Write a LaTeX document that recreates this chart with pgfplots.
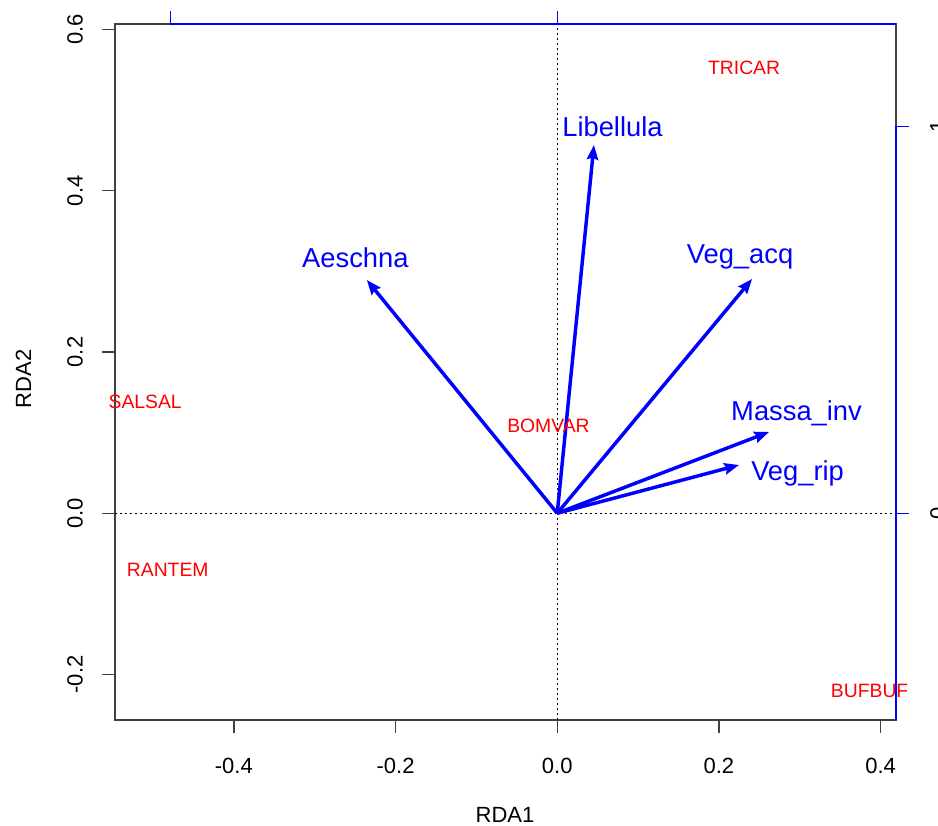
\documentclass[border=0pt]{standalone}
\usepackage{fontspec}
\setmainfont{Liberation Sans}
\usepackage{pgfplots}
\pgfplotsset{compat=1.18}
\usetikzlibrary{arrows.meta}

\newcommand\tickfont{\fontsize{16.5}{19}\selectfont}
\newcommand\spfont{\fontsize{20.5}{24}\selectfont}
\newcommand\sitefont{\fontsize{14.5}{17}\selectfont}

\begin{document}
\begin{tikzpicture}
\begin{axis}[
  width=585.75pt, height=522pt, scale only axis, clip=false,
  xmin=-0.547, xmax=0.419, ymin=-0.2565, ymax=0.6069,
  axis line style={black!75, line width=1pt},
  xtick={-0.4,-0.2,0,0.2,0.4}, xticklabels={-0.4,-0.2,0.0,0.2,0.4},
  ytick={-0.2,0,0.2,0.4,0.6}, yticklabels={-0.2,0.0,0.2,0.4,0.6},
  xtick pos=bottom, ytick pos=left, tick align=outside,
  major tick length=9.75pt,
  major tick style={black!75, line width=1pt},
  ticklabel style={font=\tickfont, inner sep=0pt},
  xticklabel style={anchor=north}, xticklabel shift=18.4pt,
  yticklabel style={rotate=90, anchor=south}, yticklabel shift=14.25pt,
  xlabel={RDA1}, ylabel={RDA2},
  label style={font=\tickfont, inner sep=0pt},
  xlabel style={at={(rel axis cs:0.4994,-0.1365)}, anchor=center},
  ylabel style={at={(rel axis cs:-0.1172,0.4899)}, anchor=center},
]
% zero lines
\addplot[black, line width=0.75pt, dash pattern=on 1.5pt off 2.25pt] coordinates {(-0.547,0) (0.419,0)};
\addplot[black, line width=0.75pt, dash pattern=on 1.5pt off 2.25pt] coordinates {(0,-0.2565) (0,0.6069)};

% species arrows
\addplot[blue, line width=2.6pt, -{Stealth[length=11pt,width=8.5pt,inset=1.5pt]}] coordinates {(0,0) (-0.2355,0.2893)};
\addplot[blue, line width=2.6pt, -{Stealth[length=11pt,width=8.5pt,inset=1.5pt]}] coordinates {(0,0) (0.0454,0.4568)};
\addplot[blue, line width=2.6pt, -{Stealth[length=11pt,width=8.5pt,inset=1.5pt]}] coordinates {(0,0) (0.2410,0.2906)};
\addplot[blue, line width=2.6pt, -{Stealth[length=11pt,width=8.5pt,inset=1.5pt]}] coordinates {(0,0) (0.2620,0.1008)};
\addplot[blue, line width=2.6pt, -{Stealth[length=11pt,width=8.5pt,inset=1.5pt]}] coordinates {(0,0) (0.2249,0.0598)};

% species labels (baseline positions)
\addplot[blue, only marks, mark=none, nodes near coords, point meta=explicit symbolic,
  nodes near coords align={center},
  every node near coord/.append style={font=\spfont, inner sep=0pt, text height=0pt, text depth=0pt}]
table[meta=label] {
x y label
-0.2497 0.3042 Aeschna
0.0683 0.4668 Libellula
0.2261 0.3092 Veg\_acq
0.2960 0.1151 Massa\_inv
0.2973 0.0412 Veg\_rip
};

% site labels
\addplot[red, only marks, mark=none, nodes near coords, point meta=explicit symbolic,
  nodes near coords align={center},
  every node near coord/.append style={font=\sitefont, inner sep=0pt, text height=0pt, text depth=0pt}]
table[meta=label] {
x y label
0.2311 0.5437 TRICAR
-0.5097 0.1305 SALSAL
-0.4818 -0.0791 RANTEM
-0.0109 0.1007 BOMVAR
0.3864 -0.2280 BUFBUF
};

\coordinate (bbl) at (rel axis cs:-0.14725,-0.1523);
\coordinate (btr) at (rel axis cs:1.05378,1.03448);
\end{axis}

% secondary (species) scale on top and right
\begin{axis}[
  width=585.75pt, height=522pt, scale only axis, clip=false,
  xmin=-1.1429, xmax=0.8752, ymin=-0.5344, ymax=1.2641,
  axis x line*=top, axis y line*=right,
  axis line style={draw=none},
  xtick={-1,0}, ytick={0,1}, xticklabels={}, yticklabels={0,1},
  tick align=outside, major tick length=9.75pt,
  major tick style={blue, line width=0.75pt},
  ticklabel style={font=\tickfont, inner sep=0pt},
  yticklabel style={rotate=90, anchor=north}, yticklabel shift=15.75pt,
]
\addplot[draw=none] coordinates {(0,0)};
\coordinate (ta) at (axis cs:-1,1.2641);
\coordinate (tb) at (axis cs:0.8752,1.2641);
\coordinate (ra) at (axis cs:0.8752,1);
\coordinate (rb) at (axis cs:0.8752,-0.5344);
\end{axis}
\draw[blue, line width=0.9pt] (ta) -- (tb);
\draw[blue, line width=0.9pt] (ra) -- (rb);
\pgfresetboundingbox
\path[use as bounding box] (bbl) rectangle (btr);
\end{tikzpicture}
\end{document}
